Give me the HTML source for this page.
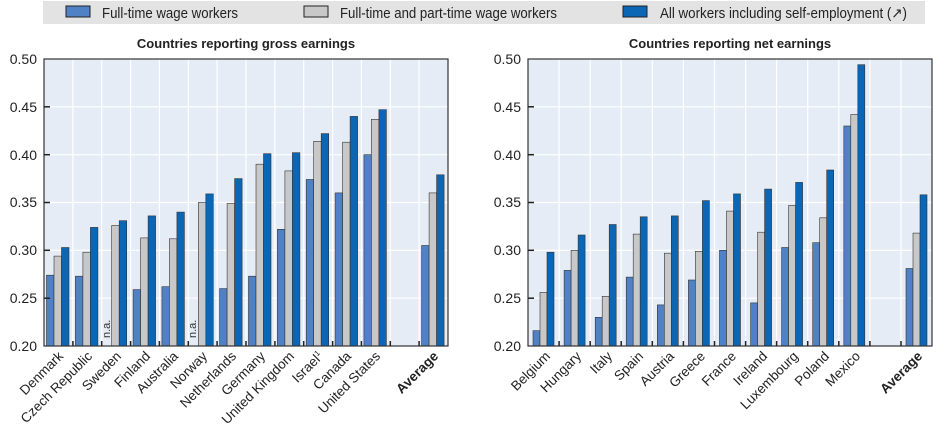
<!DOCTYPE html>
<html><head><meta charset="utf-8"><style>
body{margin:0;background:#fff}
svg{display:block;font-family:"Liberation Sans Narrow","Liberation Sans",sans-serif}
</style></head><body>
<svg width="941" height="433" viewBox="0 0 941 433" xmlns="http://www.w3.org/2000/svg">
<rect x="43" y="1" width="882" height="23" fill="#e3e3e3"/>
<rect x="66" y="6" width="24" height="11" fill="#4f81c4" stroke="#222" stroke-width="1"/>
<text x="102" y="18" font-size="14.5" fill="#222" textLength="136" lengthAdjust="spacingAndGlyphs">Full-time wage workers</text>
<rect x="304" y="6" width="24" height="11" fill="#c8c8c8" stroke="#222" stroke-width="1"/>
<text x="340" y="18" font-size="14.5" fill="#222" textLength="217" lengthAdjust="spacingAndGlyphs">Full-time and part-time wage workers</text>
<rect x="623" y="6" width="24" height="11" fill="#0b66b5" stroke="#222" stroke-width="1"/>
<text x="660" y="18" font-size="14.5" fill="#222" textLength="247" lengthAdjust="spacingAndGlyphs">All workers including self-employment (↗)</text>

<text x="246" y="48" font-size="13" font-weight="bold" text-anchor="middle" fill="#222">Countries reporting gross earnings</text>
<text x="730" y="48" font-size="13" font-weight="bold" text-anchor="middle" fill="#222">Countries reporting net earnings</text>

<!-- left panel -->
<rect x="44" y="59" width="404" height="287" fill="#e6ecf6"/>
<g stroke="#fff" stroke-width="1.2">
<line x1="44" x2="448" y1="298.2" y2="298.2"/><line x1="44" x2="448" y1="250.3" y2="250.3"/><line x1="44" x2="448" y1="202.5" y2="202.5"/><line x1="44" x2="448" y1="154.7" y2="154.7"/><line x1="44" x2="448" y1="106.8" y2="106.8"/>
<line x1="72.9" x2="72.9" y1="59" y2="346"/><line x1="101.7" x2="101.7" y1="59" y2="346"/><line x1="130.6" x2="130.6" y1="59" y2="346"/><line x1="159.4" x2="159.4" y1="59" y2="346"/><line x1="188.3" x2="188.3" y1="59" y2="346"/><line x1="217.1" x2="217.1" y1="59" y2="346"/><line x1="246" x2="246" y1="59" y2="346"/><line x1="274.9" x2="274.9" y1="59" y2="346"/><line x1="303.7" x2="303.7" y1="59" y2="346"/><line x1="332.6" x2="332.6" y1="59" y2="346"/><line x1="361.4" x2="361.4" y1="59" y2="346"/><line x1="390.3" x2="390.3" y1="59" y2="346"/><line x1="419.1" x2="419.1" y1="59" y2="346"/>
</g>
<g transform="translate(0,346) scale(1,-1)" stroke="#333" stroke-width="0.6">
<g fill="#4f81c4">
<rect x="46.5" y="0" width="7.5" height="70.8"/><rect x="75.4" y="0" width="7.5" height="69.8"/><rect x="133.1" y="0" width="7.5" height="56.4"/><rect x="161.9" y="0" width="7.5" height="59.3"/><rect x="219.6" y="0" width="7.5" height="57.4"/><rect x="248.5" y="0" width="7.5" height="69.8"/><rect x="277.4" y="0" width="7.5" height="116.7"/><rect x="306.2" y="0" width="7.5" height="166.5"/><rect x="335.1" y="0" width="7.5" height="153.1"/><rect x="363.9" y="0" width="7.5" height="191.3"/><rect x="421.6" y="0" width="7.5" height="100.5"/>
</g>
<g fill="#c8c8c8">
<rect x="54" y="0" width="7.5" height="89.9"/><rect x="82.9" y="0" width="7.5" height="93.8"/><rect x="111.7" y="0" width="7.5" height="120.5"/><rect x="140.6" y="0" width="7.5" height="108.1"/><rect x="169.4" y="0" width="7.5" height="107.2"/><rect x="198.3" y="0" width="7.5" height="143.5"/><rect x="227.1" y="0" width="7.5" height="142.5"/><rect x="256" y="0" width="7.5" height="181.8"/><rect x="284.9" y="0" width="7.5" height="175.1"/><rect x="313.7" y="0" width="7.5" height="204.7"/><rect x="342.6" y="0" width="7.5" height="203.8"/><rect x="371.4" y="0" width="7.5" height="226.7"/><rect x="429.1" y="0" width="7.5" height="153.1"/>
</g>
<g fill="#0b66b5">
<rect x="61.5" y="0" width="7.5" height="98.5"/><rect x="90.4" y="0" width="7.5" height="118.6"/><rect x="119.2" y="0" width="7.5" height="125.3"/><rect x="148.1" y="0" width="7.5" height="130.1"/><rect x="176.9" y="0" width="7.5" height="133.9"/><rect x="205.8" y="0" width="7.5" height="152.1"/><rect x="234.6" y="0" width="7.5" height="167.4"/><rect x="263.5" y="0" width="7.5" height="192.3"/><rect x="292.4" y="0" width="7.5" height="193.3"/><rect x="321.2" y="0" width="7.5" height="212.4"/><rect x="350.1" y="0" width="7.5" height="229.6"/><rect x="378.9" y="0" width="7.5" height="236.3"/><rect x="436.6" y="0" width="7.5" height="171.2"/>
</g>
</g>
<text transform="translate(110,338) rotate(-90)" font-size="11" fill="#333">n.a.</text>
<text transform="translate(196,338) rotate(-90)" font-size="11" fill="#333">n.a.</text>
<rect x="44" y="59" width="404" height="287" fill="none" stroke="#333" stroke-width="1.2"/>
<g stroke="#222" stroke-width="1.5">
<line x1="72.9" x2="72.9" y1="341" y2="346"/><line x1="101.7" x2="101.7" y1="341" y2="346"/><line x1="130.6" x2="130.6" y1="341" y2="346"/><line x1="159.4" x2="159.4" y1="341" y2="346"/><line x1="188.3" x2="188.3" y1="341" y2="346"/><line x1="217.1" x2="217.1" y1="341" y2="346"/><line x1="246" x2="246" y1="341" y2="346"/><line x1="274.9" x2="274.9" y1="341" y2="346"/><line x1="303.7" x2="303.7" y1="341" y2="346"/><line x1="332.6" x2="332.6" y1="341" y2="346"/><line x1="361.4" x2="361.4" y1="341" y2="346"/><line x1="390.3" x2="390.3" y1="341" y2="346"/><line x1="419.1" x2="419.1" y1="341" y2="346"/>
<line x1="44" x2="50" y1="298.2" y2="298.2"/><line x1="44" x2="50" y1="250.3" y2="250.3"/><line x1="44" x2="50" y1="202.5" y2="202.5"/><line x1="44" x2="50" y1="154.7" y2="154.7"/><line x1="44" x2="50" y1="106.8" y2="106.8"/>
</g>
<g font-size="14" fill="#222" text-anchor="end">
<text x="37" y="64">0.50</text><text x="37" y="112">0.45</text><text x="37" y="160">0.40</text><text x="37" y="207">0.35</text><text x="37" y="255">0.30</text><text x="37" y="303">0.25</text><text x="37" y="351">0.20</text>
</g>
<g font-size="13.5" fill="#222" text-anchor="end">
<text transform="translate(64,357) rotate(-45)">Denmark</text>
<text transform="translate(93,357) rotate(-45)">Czech Republic</text>
<text transform="translate(122,357) rotate(-45)">Sweden</text>
<text transform="translate(151,357) rotate(-45)">Finland</text>
<text transform="translate(179,357) rotate(-45)">Australia</text>
<text transform="translate(208,357) rotate(-45)">Norway</text>
<text transform="translate(237,357) rotate(-45)">Netherlands</text>
<text transform="translate(266,357) rotate(-45)">Germany</text>
<text transform="translate(295,357) rotate(-45)">United Kingdom</text>
<text transform="translate(324,357) rotate(-45)">Israel<tspan font-size="8" dy="-5">1</tspan></text>
<text transform="translate(352,357) rotate(-45)">Canada</text>
<text transform="translate(381,357) rotate(-45)">United States</text>
<text transform="translate(439,357) rotate(-45)" font-weight="bold">Average</text>
</g>

<!-- right panel -->
<rect x="528" y="59" width="404" height="287" fill="#e6ecf6"/>
<g stroke="#fff" stroke-width="1.2">
<line x1="528" x2="932" y1="298.2" y2="298.2"/><line x1="528" x2="932" y1="250.3" y2="250.3"/><line x1="528" x2="932" y1="202.5" y2="202.5"/><line x1="528" x2="932" y1="154.7" y2="154.7"/><line x1="528" x2="932" y1="106.8" y2="106.8"/>
<line x1="559.1" x2="559.1" y1="59" y2="346"/><line x1="590.2" x2="590.2" y1="59" y2="346"/><line x1="621.2" x2="621.2" y1="59" y2="346"/><line x1="652.3" x2="652.3" y1="59" y2="346"/><line x1="683.4" x2="683.4" y1="59" y2="346"/><line x1="714.5" x2="714.5" y1="59" y2="346"/><line x1="745.6" x2="745.6" y1="59" y2="346"/><line x1="776.6" x2="776.6" y1="59" y2="346"/><line x1="807.7" x2="807.7" y1="59" y2="346"/><line x1="838.8" x2="838.8" y1="59" y2="346"/><line x1="869.9" x2="869.9" y1="59" y2="346"/><line x1="901" x2="901" y1="59" y2="346"/>
</g>
<g transform="translate(0,346) scale(1,-1)" stroke="#333" stroke-width="0.6">
<g fill="#4f81c4">
<rect x="533" y="0" width="7" height="15.3"/><rect x="564.1" y="0" width="7" height="75.6"/><rect x="595.2" y="0" width="7" height="28.7"/><rect x="626.2" y="0" width="7" height="68.9"/><rect x="657.3" y="0" width="7" height="41.1"/><rect x="688.4" y="0" width="7" height="66"/><rect x="719.5" y="0" width="7" height="95.7"/><rect x="750.6" y="0" width="7" height="43.1"/><rect x="781.6" y="0" width="7" height="98.5"/><rect x="812.7" y="0" width="7" height="103.3"/><rect x="843.8" y="0" width="7" height="220"/><rect x="906" y="0" width="7" height="77.5"/>
</g>
<g fill="#c8c8c8">
<rect x="540" y="0" width="7" height="53.6"/><rect x="571.1" y="0" width="7" height="95.7"/><rect x="602.2" y="0" width="7" height="49.7"/><rect x="633.2" y="0" width="7" height="111.9"/><rect x="664.3" y="0" width="7" height="92.8"/><rect x="695.4" y="0" width="7" height="94.7"/><rect x="726.5" y="0" width="7" height="134.9"/><rect x="757.6" y="0" width="7" height="113.8"/><rect x="788.6" y="0" width="7" height="140.6"/><rect x="819.7" y="0" width="7" height="128.2"/><rect x="850.8" y="0" width="7" height="231.5"/><rect x="913" y="0" width="7" height="112.9"/>
</g>
<g fill="#0b66b5">
<rect x="547" y="0" width="7" height="93.8"/><rect x="578.1" y="0" width="7" height="111"/><rect x="609.2" y="0" width="7" height="121.5"/><rect x="640.2" y="0" width="7" height="129.2"/><rect x="671.3" y="0" width="7" height="130.1"/><rect x="702.4" y="0" width="7" height="145.4"/><rect x="733.5" y="0" width="7" height="152.1"/><rect x="764.6" y="0" width="7" height="156.9"/><rect x="795.6" y="0" width="7" height="163.6"/><rect x="826.7" y="0" width="7" height="176"/><rect x="857.8" y="0" width="7" height="281.3"/><rect x="920" y="0" width="7" height="151.2"/>
</g>
</g>
<rect x="528" y="59" width="404" height="287" fill="none" stroke="#333" stroke-width="1.2"/>
<g stroke="#222" stroke-width="1.5">
<line x1="559.1" x2="559.1" y1="341" y2="346"/><line x1="590.2" x2="590.2" y1="341" y2="346"/><line x1="621.2" x2="621.2" y1="341" y2="346"/><line x1="652.3" x2="652.3" y1="341" y2="346"/><line x1="683.4" x2="683.4" y1="341" y2="346"/><line x1="714.5" x2="714.5" y1="341" y2="346"/><line x1="745.6" x2="745.6" y1="341" y2="346"/><line x1="776.6" x2="776.6" y1="341" y2="346"/><line x1="807.7" x2="807.7" y1="341" y2="346"/><line x1="838.8" x2="838.8" y1="341" y2="346"/><line x1="869.9" x2="869.9" y1="341" y2="346"/><line x1="901" x2="901" y1="341" y2="346"/>
<line x1="528" x2="534" y1="298.2" y2="298.2"/><line x1="528" x2="534" y1="250.3" y2="250.3"/><line x1="528" x2="534" y1="202.5" y2="202.5"/><line x1="528" x2="534" y1="154.7" y2="154.7"/><line x1="528" x2="534" y1="106.8" y2="106.8"/>
</g>
<g font-size="14" fill="#222" text-anchor="end">
<text x="521" y="64">0.50</text><text x="521" y="112">0.45</text><text x="521" y="160">0.40</text><text x="521" y="207">0.35</text><text x="521" y="255">0.30</text><text x="521" y="303">0.25</text><text x="521" y="351">0.20</text>
</g>
<g font-size="13.5" fill="#222" text-anchor="end">
<text transform="translate(551,357) rotate(-45)">Belgium</text>
<text transform="translate(582,357) rotate(-45)">Hungary</text>
<text transform="translate(613,357) rotate(-45)">Italy</text>
<text transform="translate(644,357) rotate(-45)">Spain</text>
<text transform="translate(675,357) rotate(-45)">Austria</text>
<text transform="translate(706,357) rotate(-45)">Greece</text>
<text transform="translate(737,357) rotate(-45)">France</text>
<text transform="translate(768,357) rotate(-45)">Ireland</text>
<text transform="translate(799,357) rotate(-45)">Luxembourg</text>
<text transform="translate(830,357) rotate(-45)">Poland</text>
<text transform="translate(861,357) rotate(-45)">Mexico</text>
<text transform="translate(923,357) rotate(-45)" font-weight="bold">Average</text>
</g>
</svg>
</body></html>
